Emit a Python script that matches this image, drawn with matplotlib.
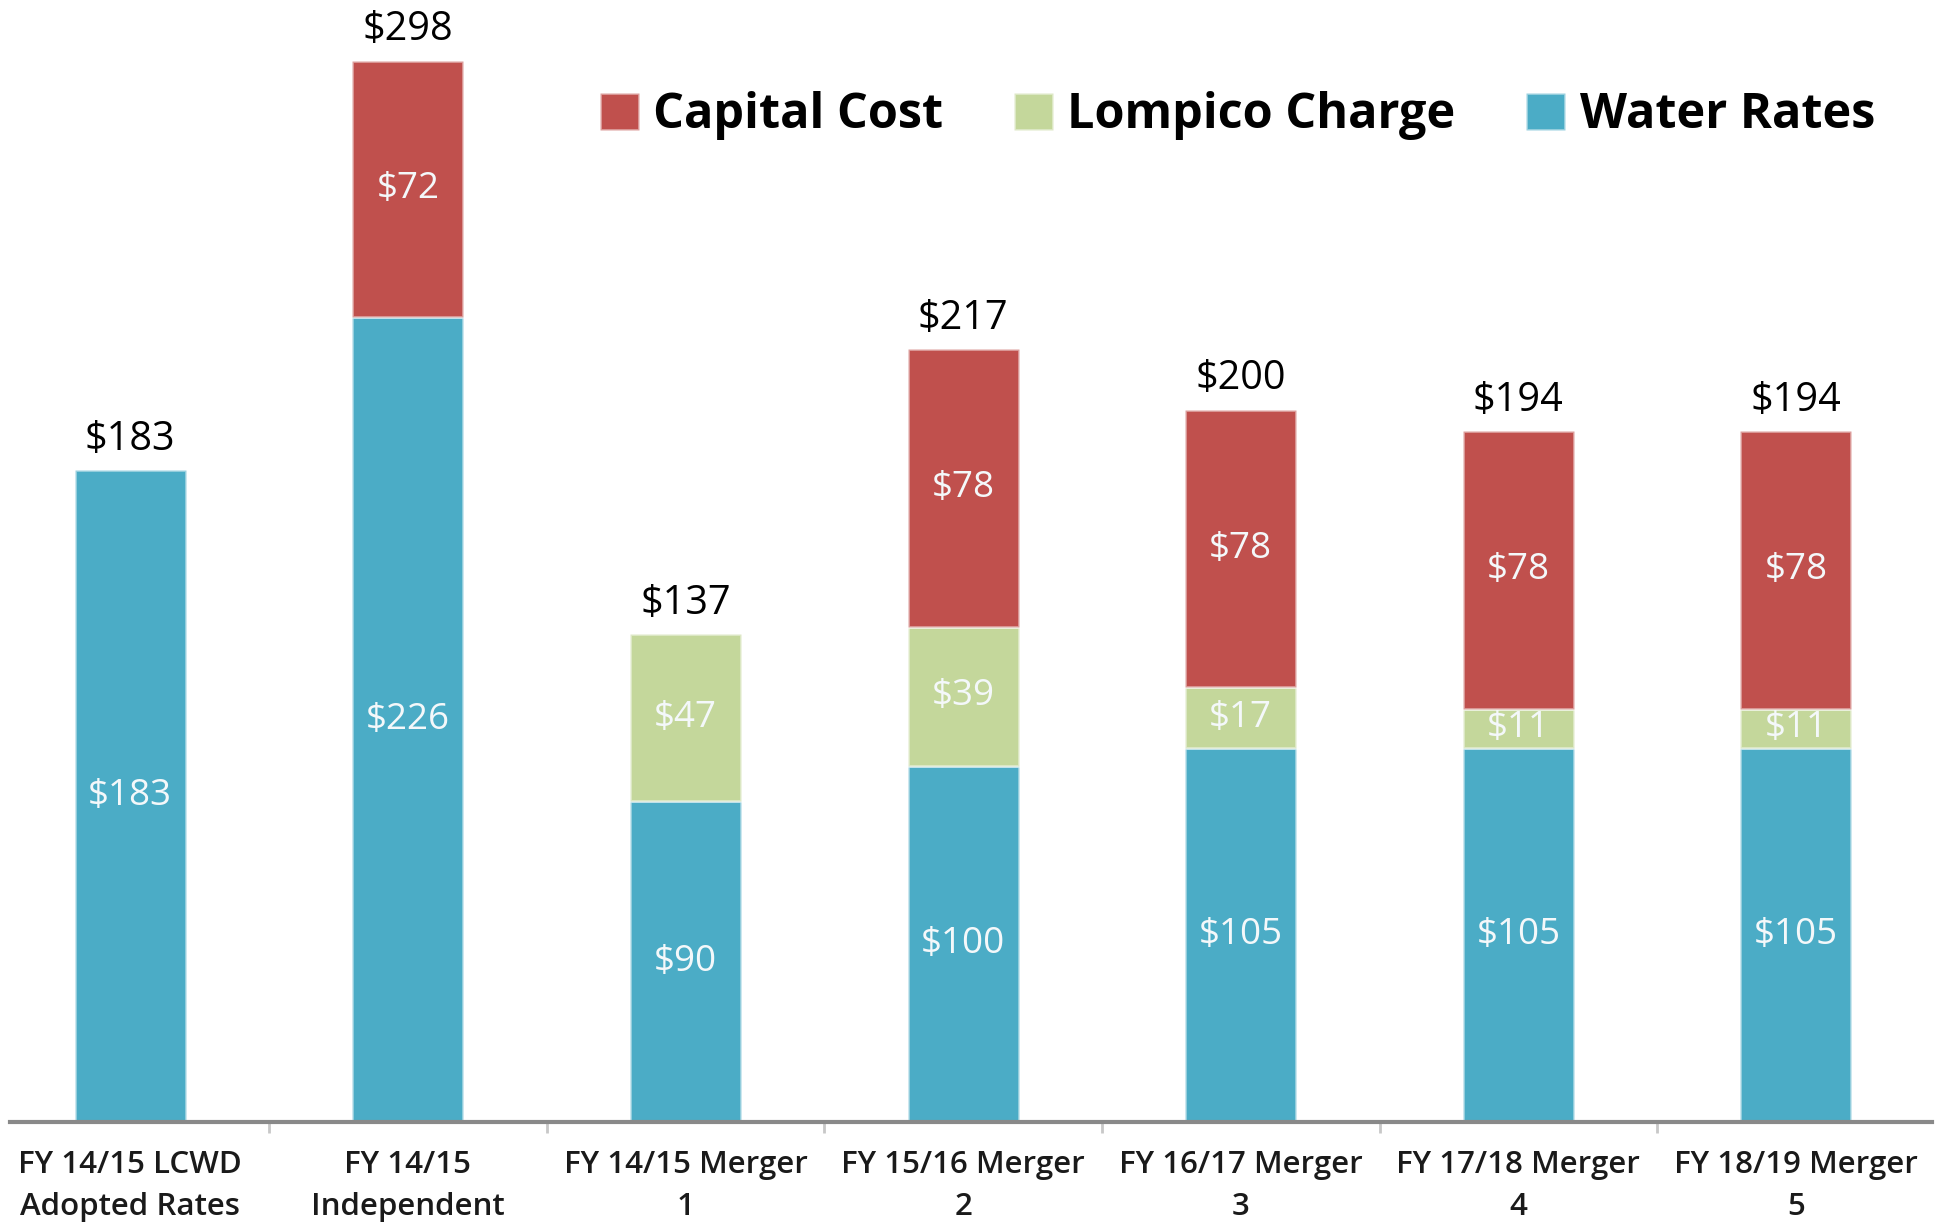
import matplotlib.pyplot as plt
import numpy as np

plt.rcParams['font.family'] = ['Open Sans', 'DejaVu Sans']

categories = ["FY 14/15 LCWD\nAdopted Rates", "FY 14/15\nIndependent",
              "FY 14/15 Merger\n1", "FY 15/16 Merger\n2", "FY 16/17 Merger\n3",
              "FY 17/18 Merger\n4", "FY 18/19 Merger\n5"]
water_rates = [183, 226, 90, 100, 105, 105, 105]
lompico_charge = [0, 0, 47, 39, 17, 11, 11]
capital_cost = [0, 72, 0, 78, 78, 78, 78]

series = [
    ("Water Rates", water_rates, "#4BACC6"),
    ("Lompico Charge", lompico_charge, "#C4D79B"),
    ("Capital Cost", capital_cost, "#C0504D"),
]

fig = plt.figure(figsize=(19.39, 12.31), dpi=100)
ax = fig.add_axes([10 / 1939, 109 / 1231, 1922 / 1939, 1122 / 1231])

x = np.arange(len(categories))
width = 0.4
bottom = np.zeros(len(categories))
handles = {}
for name, vals, color in series:
    vals = np.array(vals, dtype=float)
    mask = vals > 0
    bars = ax.bar(x[mask], vals[mask], width, bottom=bottom[mask], color=color,
                  edgecolor=(1, 1, 1, 0.45), linewidth=2, label=name)
    handles[name] = bars
    for xi, v, b in zip(x[mask], vals[mask], bottom[mask]):
        ax.text(xi, b + v / 2, f"${int(v)}", ha='center', va='center',
                color='#F4F8FA', fontsize=26.5)
    bottom += vals

# totals above bars
for xi, tot in zip(x, bottom):
    ax.annotate(f"${int(tot)}", (xi, tot), xytext=(0, 22), textcoords='offset points',
                ha='center', va='center', fontsize=28.5, color='black')

ax.set_xlim(-0.433, 6.49)
ax.set_ylim(0, 315)
ax.set_yticks([])
for s in ['top', 'right', 'left']:
    ax.spines[s].set_visible(False)
ax.spines['bottom'].set_color('#898989')
ax.spines['bottom'].set_linewidth(3)

ax.set_xticks(x)
ax.set_xticklabels(categories, fontsize=22.5, color='#1a1a1a', linespacing=1.55,
                   fontweight='semibold')
ax.tick_params(axis='x', which='major', length=0, pad=20)
ax.set_xticks(np.arange(0.5, len(categories) - 1, 1), minor=True)
ax.tick_params(axis='x', which='minor', length=8, width=2, color='#c8c8c8')

order = ["Capital Cost", "Lompico Charge", "Water Rates"]
leg = ax.legend([handles[n] for n in order], order, loc='center right',
                bbox_to_anchor=(1875 / 1939, 1 - 116 / 1231), bbox_transform=fig.transFigure,
                ncol=3, frameon=False, fontsize=35, handlelength=0.8, handleheight=0.8,
                handletextpad=0.3, columnspacing=1.45, borderaxespad=0, borderpad=0)
for t in leg.get_texts():
    t.set_fontweight('bold')

fig.savefig("out.png", dpi=100)
